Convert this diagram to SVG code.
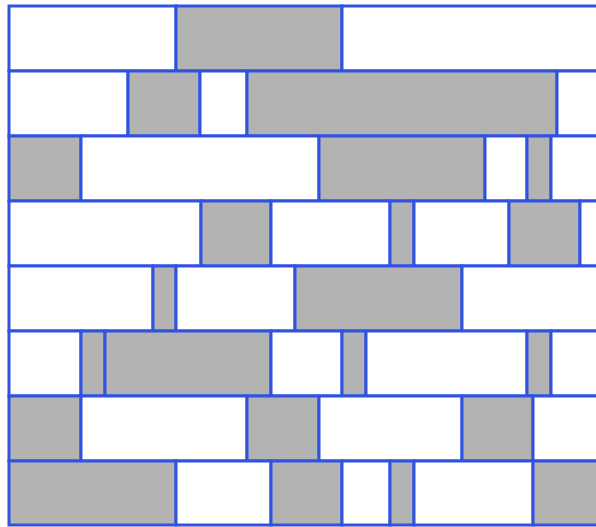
<svg xmlns="http://www.w3.org/2000/svg" width="596" height="527" viewBox="0 0 596 527">
<style>
rect{stroke:#2f52e0;stroke-width:3}
.w{fill:#ffffff}
.g{fill:#b3b3b3}
</style>
<rect x="0" y="0" width="596" height="527" fill="#ffffff" style="stroke:none"/>
<g id="row1">
<rect class="w" x="9" y="6" width="167" height="65"/>
<rect class="g" x="176" y="6" width="166" height="65"/>
<rect class="w" x="342" y="6" width="262" height="65"/>
</g>
<g id="row2">
<rect class="w" x="9" y="71" width="119" height="65"/>
<rect class="g" x="128" y="71" width="72" height="65"/>
<rect class="w" x="200" y="71" width="47" height="65"/>
<rect class="g" x="247" y="71" width="310" height="65"/>
<rect class="w" x="557" y="71" width="47" height="65"/>
</g>
<g id="row3">
<rect class="g" x="9" y="136" width="72" height="65"/>
<rect class="w" x="81" y="136" width="238" height="65"/>
<rect class="g" x="319" y="136" width="166" height="65"/>
<rect class="w" x="485" y="136" width="42" height="65"/>
<rect class="g" x="527" y="136" width="24" height="65"/>
<rect class="w" x="551" y="136" width="53" height="65"/>
</g>
<g id="row4">
<rect class="w" x="9" y="201" width="192" height="65"/>
<rect class="g" x="201" y="201" width="70" height="65"/>
<rect class="w" x="271" y="201" width="119" height="65"/>
<rect class="g" x="390" y="201" width="24" height="65"/>
<rect class="w" x="414" y="201" width="95" height="65"/>
<rect class="g" x="509" y="201" width="71" height="65"/>
<rect class="w" x="580" y="201" width="24" height="65"/>
</g>
<g id="row5">
<rect class="w" x="9" y="266" width="144" height="65"/>
<rect class="g" x="153" y="266" width="23" height="65"/>
<rect class="w" x="176" y="266" width="119" height="65"/>
<rect class="g" x="295" y="266" width="167" height="65"/>
<rect class="w" x="462" y="266" width="142" height="65"/>
</g>
<g id="row6">
<rect class="w" x="9" y="331" width="72" height="65"/>
<rect class="g" x="81" y="331" width="24" height="65"/>
<rect class="g" x="105" y="331" width="166" height="65"/>
<rect class="w" x="271" y="331" width="71" height="65"/>
<rect class="g" x="342" y="331" width="24" height="65"/>
<rect class="w" x="366" y="331" width="161" height="65"/>
<rect class="g" x="527" y="331" width="24" height="65"/>
<rect class="w" x="551" y="331" width="53" height="65"/>
</g>
<g id="row7">
<rect class="g" x="9" y="396" width="72" height="65"/>
<rect class="w" x="81" y="396" width="166" height="65"/>
<rect class="g" x="247" y="396" width="72" height="65"/>
<rect class="w" x="319" y="396" width="143" height="65"/>
<rect class="g" x="462" y="396" width="71" height="65"/>
<rect class="w" x="533" y="396" width="71" height="65"/>
</g>
<g id="row8">
<rect class="g" x="9" y="461" width="167" height="64"/>
<rect class="w" x="176" y="461" width="95" height="64"/>
<rect class="g" x="271" y="461" width="71" height="64"/>
<rect class="w" x="342" y="461" width="48" height="64"/>
<rect class="g" x="390" y="461" width="24" height="64"/>
<rect class="w" x="414" y="461" width="119" height="64"/>
<rect class="g" x="533" y="461" width="71" height="64"/>
</g>
</svg>
